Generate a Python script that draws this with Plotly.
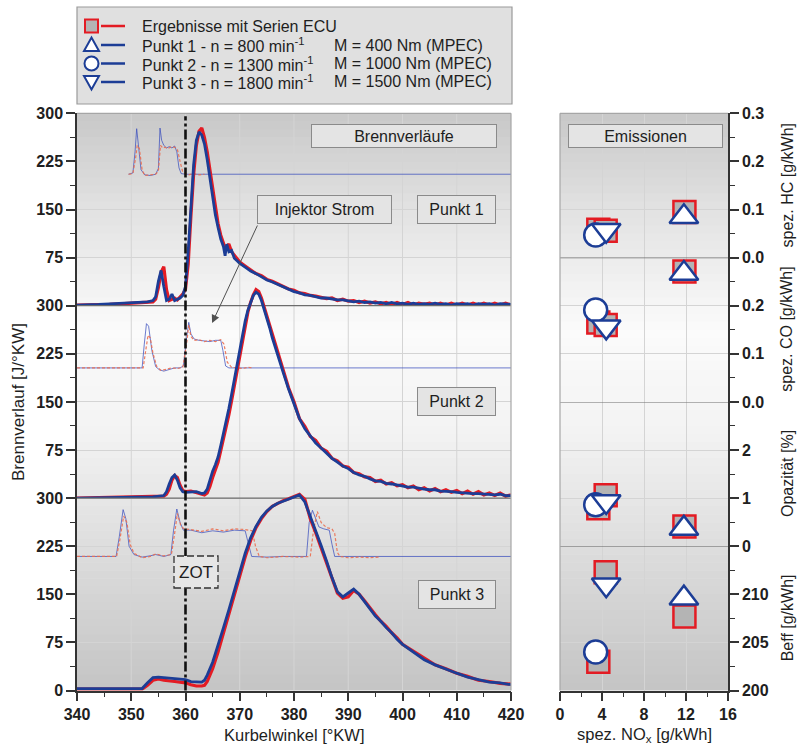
import plotly.graph_objects as go

# ---------------- data ----------------
X_TICKS = [340, 350, 360, 370, 380, 390, 400, 410, 420]
Y_TICKS_UPPER = [75, 150, 225, 300]
Y_TICKS_LOWER = [0, 75, 150, 225, 300]
NOX_TICKS = [0, 4, 8, 12, 16]
HC_TICKS = [0.0, 0.1, 0.2, 0.3]
CO_TICKS = [0.0, 0.1, 0.2]
OPA_TICKS = [0, 1, 2]
BEFF_TICKS = [200, 205, 210]

# Punkt 1 heat release
P1_X = [340, 342, 344, 346, 348, 350, 352, 353, 354, 354.5,
        355, 355.5, 356, 356.5, 357, 357.5, 358, 358.5, 359, 359.5,
        360, 360.5, 361, 361.5, 362, 362.5, 363, 363.5, 364, 364.5,
        365, 365.5, 366, 366.5, 367, 367.3, 367.6, 368, 368.5, 369,
        369.5, 370, 371, 372, 373, 374, 375, 376, 377, 378,
        379, 380, 381, 382, 383, 384, 385, 386, 387, 388,
        389, 390, 391, 392, 393, 394, 395, 396, 397, 398,
        399, 400, 401, 402, 403, 404, 405, 406, 407, 408,
        409, 410, 411, 412, 413, 414, 415, 416, 417, 418,
        419, 420]
P1_BLUE = [1, 1, 2, 3, 4, 5, 6, 6, 8, 14,
           38, 55, 30, 8, 10, 18, 8, 10, 12, 16,
           30, 85, 160, 220, 258, 271, 266, 252, 228, 198,
           168, 142, 122, 104, 92, 78, 96, 84, 86, 74,
           70, 66, 60, 54, 50, 45, 40, 37, 33, 29,
           26, 22, 20, 17, 16, 14, 12, 12, 10, 9,
           9, 8, 6, 7, 5, 6, 4, 5, 3, 5,
           3, 4, 2, 4, 2, 3, 2, 4, 2, 3,
           1, 3, 2, 3, 1, 3, 2, 3, 1, 3,
           2, 2]
P1_RED = [1, 1, 2, 2, 3, 4, 5, 6, 6, 10,
          28, 52, 61, 25, 8, 10, 12, 9, 14, 18,
          26, 65, 140, 205, 250, 272, 277, 262, 240, 212,
          180, 152, 128, 110, 98, 90, 92, 96, 84, 78,
          72, 68, 62, 56, 50, 47, 41, 38, 34, 30,
          26, 24, 20, 19, 16, 15, 13, 11, 12, 8,
          10, 7, 8, 5, 7, 4, 6, 3, 5, 2,
          5, 2, 5, 1, 4, 2, 4, 1, 4, 1,
          4, 1, 4, 1, 4, 1, 4, 1, 4, 1,
          4, 1]

# Punkt 2 heat release
P2_X = [340, 345, 350, 354, 356, 356.5, 357, 357.5, 358, 358.5,
        359, 359.5, 360, 361, 362, 363, 363.5, 364, 364.5, 365,
        365.5, 366, 366.5, 367, 367.5, 368, 368.5, 369, 369.5, 370,
        370.5, 371, 371.5, 372, 372.5, 373, 373.5, 374, 374.5, 375,
        375.5, 376, 376.5, 377, 377.5, 378, 379, 380, 381, 382,
        383, 384, 385, 386, 387, 388, 389, 390, 391, 392,
        393, 394, 395, 396, 397, 398, 399, 400, 401, 402,
        403, 404, 405, 406, 407, 408, 409, 410, 411, 412,
        413, 414, 415, 416, 417, 418, 419, 420]
P2_BLUE = [0, 1, 1, 2, 4, 10, 22, 32, 36, 28,
           16, 10, 9, 10, 10, 7, 8, 14, 28, 42,
           52, 64, 82, 100, 118, 140, 162, 186, 208, 232,
           256, 276, 293, 306, 316, 321, 318, 308, 295, 280,
           266, 250, 236, 222, 208, 196, 170, 146, 124, 108,
           96, 86, 78, 70, 62, 56, 50, 46, 40, 36,
           34, 30, 27, 26, 23, 22, 20, 19, 17, 17,
           15, 14, 13, 13, 11, 11, 10, 9, 8, 8,
           7, 7, 6, 6, 5, 6, 4, 4]
P2_RED = [0, 1, 2, 2, 3, 6, 14, 28, 35, 32,
          20, 12, 10, 11, 9, 6, 5, 8, 18, 32,
          44, 56, 74, 92, 110, 130, 152, 176, 200, 224,
          248, 270, 290, 305, 317, 325, 322, 312, 298, 283,
          268, 254, 238, 224, 212, 198, 172, 150, 124, 112,
          96, 90, 78, 73, 62, 58, 50, 48, 40, 38,
          33, 32, 26, 28, 22, 24, 19, 21, 16, 19,
          13, 16, 11, 15, 10, 13, 9, 12, 7, 11,
          6, 10, 5, 8, 4, 8, 3, 5]

# Punkt 3 heat release
P3_X = [340, 345, 350, 352, 353, 354, 355, 356, 358, 360,
        361, 362, 363, 363.5, 364, 365, 366, 367, 368, 369,
        370, 371, 372, 373, 374, 375, 376, 377, 378, 379,
        380, 381, 382, 383, 384, 385, 386, 387, 388, 389,
        390, 391, 392, 393, 394, 395, 396, 397, 398, 399,
        400, 402, 404, 406, 408, 410, 412, 414, 416, 418,
        420]
P3_BLUE = [3, 3, 3, 3, 12, 20, 21, 20, 19, 17,
           14, 13, 13, 16, 24, 44, 70, 98, 126, 156,
           186, 214, 238, 256, 270, 280, 287, 292, 295, 298,
           302, 305, 294, 272, 250, 226, 202, 176, 154, 146,
           152, 158, 150, 138, 128, 116, 108, 98, 90, 80,
           72, 60, 48, 40, 33, 27, 21, 17, 13, 12,
           9]
P3_RED = [2, 2, 2, 2, 8, 16, 18, 16, 14, 12,
          9, 7, 7, 8, 14, 34, 60, 90, 120, 150,
          180, 208, 234, 254, 268, 279, 287, 292, 296, 299,
          302, 306, 298, 268, 246, 222, 198, 174, 152, 144,
          146, 156, 150, 140, 128, 118, 108, 100, 90, 82,
          72, 61, 50, 40, 34, 27, 22, 16, 14, 11,
          10]

# injector current traces (plotted on the same scale)
INJ1_BLUE_X = [349.5, 350.3, 350.7, 351.0, 351.3, 351.8, 352.5, 353.5, 354.5, 355.0,
               355.3, 355.6, 356.0, 356.5, 357.0, 357.5, 358.0, 358.4, 358.8, 359.2,
               360.0, 420]
INJ1_BLUE_Y = [205, 207, 240, 276, 252, 212, 204, 203, 205, 214,
               277, 258, 250, 246, 248, 246, 249, 240, 215, 206,
               205, 205]
INJ1_RED_X = [349.5, 350.3, 350.8, 351.1, 351.5, 352.0, 352.5, 353.5, 354.5, 355.0,
              355.4, 355.8, 356.2, 356.8, 357.4, 358.0, 358.5, 359.0, 359.5, 360.5,
              361.5, 362.5, 363.5]
INJ1_RED_Y = [205, 206, 230, 250, 245, 212, 203, 204, 205, 210,
              250, 246, 247, 245, 248, 247, 244, 225, 208, 204,
              206, 204, 205]
INJ2_BLUE_X = [340, 352.0, 352.4, 352.8, 353.2, 353.8, 354.5, 355.2, 356.0, 357.0,
               358.0, 359.0, 359.6, 360.2, 360.6, 361.0, 361.6, 362.5, 363.5, 364.5,
               365.5, 366.5, 366.9, 367.4, 368.0, 420]
INJ2_BLUE_Y = [203, 203, 240, 272, 268, 230, 205, 200, 198, 201,
               203, 203, 206, 250, 274, 256, 248, 246, 245, 244,
               246, 246, 230, 206, 203, 203]
INJ2_RED_X = [340, 352.2, 352.7, 353.1, 353.5, 354.0, 354.7, 355.5, 356.5, 357.5,
              358.5, 359.5, 360.2, 360.6, 361.0, 361.6, 362.5, 363.5, 364.5, 365.5,
              366.5, 367.1, 367.7, 368.5, 369.5, 370.5, 371.5, 372.4]
INJ2_RED_Y = [203, 203, 232, 254, 250, 226, 205, 199, 201, 203,
              202, 204, 240, 270, 252, 246, 247, 244, 246, 244,
              247, 240, 212, 204, 203, 202, 204, 203]
INJ3_BLUE_X = [340, 347.2, 347.8, 348.5, 349.0, 349.6, 350.5, 352.0, 353.5, 354.5,
               356.0, 357.3, 357.8, 358.4, 359.0, 359.6, 361.0, 363.0, 365.0, 367.0,
               369.0, 371.0, 371.5, 372.2, 375.0, 378.0, 382.3, 382.8, 383.4, 384.0,
               384.6, 385.5, 386.5, 387.0, 387.5, 420]
INJ3_BLUE_Y = [209, 209, 240, 282, 268, 225, 212, 208, 210, 212,
               209, 212, 250, 283, 262, 250, 250, 246, 249, 247,
               250, 249, 232, 209, 208, 209, 209, 262, 281, 268,
               255, 252, 250, 228, 209, 209]
INJ3_RED_X = [340, 347.3, 347.9, 348.6, 349.2, 349.8, 350.5, 352.0, 353.5, 354.5,
              356.0, 357.4, 358.0, 358.5, 359.1, 359.7, 361.0, 363.0, 365.0, 367.0,
              369.0, 371.0, 372.3, 372.9, 373.6, 375.0, 378.0, 381.0, 383.0, 383.6,
              384.3, 385.0, 386.0, 387.0, 387.5, 388.0, 388.5, 390.0, 392.0, 394.0,
              395.7]
INJ3_RED_Y = [209, 209, 235, 272, 262, 228, 214, 207, 209, 213,
              210, 212, 245, 276, 258, 252, 251, 248, 252, 249,
              252, 251, 249, 225, 209, 207, 209, 208, 209, 250,
              279, 262, 254, 252, 245, 215, 209, 207, 208, 207,
              208]

# emissions: order Punkt 1, Punkt 2, Punkt 3
PUNKT_SYMBOLS = ["triangle-up", "circle", "triangle-down"]
NOX_PUNKT = [11.8, 3.4, 4.4]
NOX_ECU = [11.85, 3.65, 4.35]
HC_PUNKT = [0.085, 0.047, 0.057]
HC_ECU = [0.095, 0.058, 0.056]
CO_PUNKT = [0.267, 0.191, 0.156]
CO_ECU = [0.271, 0.165, 0.160]
OPA_PUNKT = [0.37, 0.86, 0.93]
OPA_ECU = [0.41, 0.79, 1.06]
BEFF_PUNKT = [209.6, 204.0, 211.0]
BEFF_ECU = [207.7, 203.0, 212.3]

# ---------------- layout geometry / style ----------------
W, H = 799, 746
FONT = "Liberation Sans, Arial, sans-serif"
INK = "#1e1e1e"
BLUE = "#1c3d96"
RED = "#e31b23"
GRID = "#d4d4d4"


def fx(p):
    return p / W


def fy(p):
    return 1 - p / H


LX0, LX1 = 77.0, 511.0
RX0, RX1 = 560.0, 728.0
TOP, BOT = 113.3, 690.5
PH = (BOT - TOP) / 3.0
UPX = PH / 300.0
B1 = TOP + PH
B2 = TOP + 2 * PH
P2_MAX, P3_MAX = 335, 312
RH = (BOT - TOP) / 4.0

fig = go.Figure()


def add_line(x, y, ya, color, width, dash="solid"):
    fig.add_trace(go.Scatter(x=x, y=y, xaxis="x", yaxis=ya, mode="lines",
                             line=dict(color=color, width=width, dash=dash),
                             hoverinfo="skip", showlegend=False))


INJ_BLUE = "rgba(60,80,190,0.75)"
INJ_RED = "rgba(235,110,80,0.9)"
for ya, bx, by, rx, ry in [("y", INJ1_BLUE_X, INJ1_BLUE_Y, INJ1_RED_X, INJ1_RED_Y),
                           ("y2", INJ2_BLUE_X, INJ2_BLUE_Y, INJ2_RED_X, INJ2_RED_Y),
                           ("y3", INJ3_BLUE_X, INJ3_BLUE_Y, INJ3_RED_X, INJ3_RED_Y)]:
    add_line(bx, by, ya, INJ_BLUE, 1)
    add_line(rx, ry, ya, INJ_RED, 1.2, "3px,2px")

for ya, xs, red, blue in [("y", P1_X, P1_RED, P1_BLUE),
                          ("y2", P2_X, P2_RED, P2_BLUE),
                          ("y3", P3_X, P3_RED, P3_BLUE)]:
    add_line(xs, red, ya, RED, 3.2)
    add_line(xs, blue, ya, BLUE, 2.8)

for ya, ecu, pk in [("y4", HC_ECU, HC_PUNKT), ("y5", CO_ECU, CO_PUNKT),
                    ("y6", OPA_ECU, OPA_PUNKT), ("y7", BEFF_ECU, BEFF_PUNKT)]:
    fig.add_trace(go.Scatter(x=NOX_ECU, y=ecu, xaxis="x2", yaxis=ya, mode="markers",
                             marker=dict(symbol="square", size=22, color="#b4b4b4", opacity=1,
                                         line=dict(color=RED, width=2.5)),
                             cliponaxis=False, hoverinfo="skip", showlegend=False))
    fig.add_trace(go.Scatter(x=NOX_PUNKT, y=pk, xaxis="x2", yaxis=ya, mode="markers",
                             marker=dict(symbol=PUNKT_SYMBOLS, size=[25, 23, 25], color="white", opacity=1,
                                         line=dict(color=BLUE, width=2.5)),
                             cliponaxis=False, hoverinfo="skip", showlegend=False))

shapes = []
# background gradient
stops = [(TOP, 200), (210, 226), (330, 251), (430, 243), (560, 219), (BOT, 196)]


def shade(y):
    for (a, ga), (b, gb) in zip(stops[:-1], stops[1:]):
        if a <= y <= b:
            return ga + (gb - ga) * (y - a) / (b - a)
    return stops[-1][1]


N = 72
for i in range(N):
    y0 = TOP + (BOT - TOP) * i / N
    y1 = TOP + (BOT - TOP) * (i + 1) / N
    g = int(round(shade((y0 + y1) / 2)))
    for a, b in [(LX0, LX1), (RX0, RX1)]:
        shapes.append(dict(type="rect", xref="paper", yref="paper", x0=fx(a), x1=fx(b),
                           y0=fy(min(y1 + 0.6, BOT)), y1=fy(y0), fillcolor=f"rgb({g},{g},{g})",
                           line=dict(width=0), layer="below"))

# vertical grid lines of the left plot
for v in X_TICKS[1:-1]:
    shapes.append(dict(type="line", xref="x", yref="paper", x0=v, x1=v, y0=fy(BOT), y1=fy(TOP),
                       line=dict(color=GRID, width=1), layer="below"))

# frames
FRAME = "#a6a6a6"
shapes += [
    dict(type="line", xref="paper", yref="paper", x0=fx(LX0), x1=fx(LX1), y0=fy(TOP), y1=fy(TOP),
         line=dict(color=FRAME, width=1.2), layer="above"),
    dict(type="line", xref="paper", yref="paper", x0=fx(LX1), x1=fx(LX1), y0=fy(BOT), y1=fy(TOP),
         line=dict(color=FRAME, width=1.2), layer="above"),
    dict(type="line", xref="paper", yref="paper", x0=fx(RX0), x1=fx(RX1), y0=fy(TOP), y1=fy(TOP),
         line=dict(color=FRAME, width=1.2), layer="above"),
    dict(type="line", xref="paper", yref="paper", x0=fx(RX0), x1=fx(RX0), y0=fy(BOT), y1=fy(TOP),
         line=dict(color=FRAME, width=1.2), layer="above"),
]
# panel boundaries
SEP = "#6c6c6c"
shapes += [
    dict(type="line", xref="x", yref="y2", x0=340, x1=420, y0=300, y1=300,
         line=dict(color=SEP, width=1.3), layer="between"),
    dict(type="line", xref="x", yref="y3", x0=340, x1=420, y0=300, y1=300,
         line=dict(color=SEP, width=1.3), layer="between"),
    dict(type="line", xref="x2", yref="y5", x0=0, x1=16, y0=0.3, y1=0.3,
         line=dict(color=SEP, width=1.3), layer="between"),
    dict(type="line", xref="x2", yref="y6", x0=0, x1=16, y0=3, y1=3,
         line=dict(color=SEP, width=1.3), layer="between"),
    dict(type="line", xref="x2", yref="y7", x0=0, x1=16, y0=215, y1=215,
         line=dict(color=SEP, width=1.3), layer="between"),
]
# ZOT dashed line and box
shapes.append(dict(type="line", xref="x", yref="paper", x0=360, x1=360, y0=fy(BOT), y1=fy(TOP + 3),
                   line=dict(color="#111", width=2.6, dash="10px,3px,3px,3px"), layer="above"))
shapes.append(dict(type="rect", xref="paper", yref="paper", x0=fx(174), x1=fx(218), y0=fy(588), y1=fy(556),
                   fillcolor="#e6e6e6", line=dict(color="#333", width=1.3, dash="7px,3px"), layer="above"))

# legend box + glyphs
shapes.append(dict(type="rect", xref="paper", yref="paper", x0=fx(77), x1=fx(512), y0=fy(104), y1=fy(7),
                   fillcolor="#e0e0e0", line=dict(color="#9a9a9a", width=1.2), layer="above"))
ROWS = [26, 45, 63.5, 82]
CX = 91.5
for i, cy in enumerate(ROWS):
    col = RED if i == 0 else BLUE
    shapes.append(dict(type="line", xref="paper", yref="paper", x0=fx(101), x1=fx(125), y0=fy(cy), y1=fy(cy),
                       line=dict(color=col, width=2.5), layer="above"))
cy = ROWS[0]
shapes.append(dict(type="rect", xref="paper", yref="paper", x0=fx(CX - 6.5), x1=fx(CX + 6.5),
                   y0=fy(cy + 6.5), y1=fy(cy - 6.5), fillcolor="#b4b4b4",
                   line=dict(color=RED, width=2), layer="above"))


def tri(cx, cy, up):
    if up:
        pts = [(cx - 7.5, cy + 6), (cx + 7.5, cy + 6), (cx, cy - 7.5)]
    else:
        pts = [(cx - 7.5, cy - 6), (cx + 7.5, cy - 6), (cx, cy + 7.5)]
    return "M {:.5f},{:.5f} L {:.5f},{:.5f} L {:.5f},{:.5f} Z".format(
        fx(pts[0][0]), fy(pts[0][1]), fx(pts[1][0]), fy(pts[1][1]), fx(pts[2][0]), fy(pts[2][1]))


shapes.append(dict(type="path", xref="paper", yref="paper", path=tri(CX, ROWS[1], True),
                   fillcolor="white", line=dict(color=BLUE, width=2), layer="above"))
shapes.append(dict(type="circle", xref="paper", yref="paper", x0=fx(CX - 7), x1=fx(CX + 7),
                   y0=fy(ROWS[2] + 7), y1=fy(ROWS[2] - 7), fillcolor="white",
                   line=dict(color=BLUE, width=2), layer="above"))
shapes.append(dict(type="path", xref="paper", yref="paper", path=tri(CX, ROWS[3], False),
                   fillcolor="white", line=dict(color=BLUE, width=2), layer="above"))

annotations = []


def text(t, x, y, size=16, anchor="center", angle=0):
    annotations.append(dict(text=t, xref="paper", yref="paper", x=fx(x), y=fy(y),
                            xanchor=anchor, yanchor="middle", showarrow=False, textangle=angle,
                            font=dict(family=FONT, size=size, color=INK)))


def box(t, x0, x1, y0, y1):
    annotations.append(dict(text=t, xref="paper", yref="paper", x=fx((x0 + x1) / 2), y=fy((y0 + y1) / 2),
                            xanchor="center", yanchor="middle", showarrow=False,
                            width=x1 - x0 - 2, height=y1 - y0 - 2, borderpad=0,
                            bgcolor="#e4e4e4", bordercolor="#8a8a8a", borderwidth=1,
                            font=dict(family=FONT, size=16, color=INK)))


LEG_A = ["Ergebnisse mit Serien ECU",
         "Punkt 1 - n = 800 min<sup>-1</sup>",
         "Punkt 2 - n = 1300 min<sup>-1</sup>",
         "Punkt 3 - n = 1800 min<sup>-1</sup>"]
LEG_B = ["", "M = 400 Nm (MPEC)", "M = 1000 Nm (MPEC)", "M = 1500 Nm (MPEC)"]
for cy, a, b in zip(ROWS, LEG_A, LEG_B):
    text(a, 140, cy, 16, "left")
    if b:
        text(b, 332, cy, 16, "left")

box("Brennverläufe", 311, 497, 124, 148)
box("Punkt 1", 417, 496, 195, 224)
box("Injektor Strom", 257, 392, 195, 224)
box("Punkt 2", 417, 496, 387, 416)
box("Punkt 3", 418, 496, 580, 609)
box("Emissionen", 568, 723, 124, 148)
text("ZOT", 196, 572, 17)

# arrow from "Injektor Strom" to the injector trace of Punkt 2
annotations.append(dict(text="", xref="x", yref="y2", x=364.9, y=273, ax=46, ay=-99,
                        showarrow=True, arrowhead=2, arrowsize=1.6, arrowwidth=1, arrowcolor="#505050"))

# axis titles
text("Kurbelwinkel [°KW]", (LX0 + LX1) / 2, 735, 16.5)
text("spez. NO<sub>x</sub> [g/kWh]", (RX0 + RX1) / 2, 735, 16.5)
text("Brennverlauf [J/°KW]", 18, 402, 17, angle=-90)
for k, t in enumerate(["spez. HC [g/kWh]", "spez. CO [g/kWh]", "Opazität [%]", "Beff [g/kWh]"]):
    text(t, 787, TOP + RH * (k + 0.5), 16, angle=-90)

common = dict(showline=True, linecolor="#333", linewidth=1.5, ticks="outside", tickcolor="#333",
              tickwidth=1.5, ticklen=9, tickfont=dict(family=FONT, size=16, color="#202020", weight="bold"),
              zeroline=False, automargin=False, fixedrange=True)


def minor(d, t0=0):
    return dict(tickmode="linear", tick0=t0, dtick=d, ticks="outside", ticklen=5,
                tickcolor="#333", tickwidth=1.2, showgrid=False)


layout = dict(
    width=W, height=H, margin=dict(l=0, r=0, t=0, b=0),
    paper_bgcolor="white", plot_bgcolor="rgba(0,0,0,0)", showlegend=False,
    font=dict(family=FONT, color=INK),
    shapes=shapes, annotations=annotations,
    xaxis=dict(common, domain=[fx(LX0), fx(LX1)], range=[340, 420], anchor="y3",
               tickmode="array", tickvals=X_TICKS, showgrid=False, minor=minor(5)),
    yaxis=dict(common, domain=[fy(B1), fy(TOP)], range=[0, 300], anchor="x",
               tickmode="array", tickvals=Y_TICKS_UPPER, showgrid=True, gridcolor=GRID,
               minor=minor(37.5)),
    yaxis2=dict(common, domain=[fy(B2), fy(B1 - (P2_MAX - 300) * UPX)], range=[0, P2_MAX], anchor="x",
                tickmode="array", tickvals=Y_TICKS_UPPER, showgrid=True, gridcolor=GRID,
                minor=minor(37.5)),
    yaxis3=dict(common, domain=[fy(BOT), fy(B2 - (P3_MAX - 300) * UPX)], range=[0, P3_MAX], anchor="x",
                tickmode="array", tickvals=Y_TICKS_LOWER, showgrid=True, gridcolor=GRID,
                minor=minor(37.5)),
    xaxis2=dict(common, domain=[fx(RX0), fx(RX1)], range=[0, 16], anchor="y7",
                tickmode="array", tickvals=NOX_TICKS, showgrid=True, gridcolor=GRID, minor=minor(2)),
    yaxis4=dict(common, domain=[fy(TOP + RH), fy(TOP)], range=[0, 0.3], anchor="x2", side="right",
                tickmode="array", tickvals=HC_TICKS, tickformat=".1f", showgrid=True, gridcolor=GRID,
                minor=minor(0.05)),
    yaxis5=dict(common, domain=[fy(TOP + 2 * RH), fy(TOP + RH)], range=[0, 0.3], anchor="x2", side="right",
                tickmode="array", tickvals=CO_TICKS, tickformat=".1f", showgrid=True, gridcolor=GRID,
                minor=minor(0.05)),
    yaxis6=dict(common, domain=[fy(TOP + 3 * RH), fy(TOP + 2 * RH)], range=[0, 3], anchor="x2", side="right",
                tickmode="array", tickvals=OPA_TICKS, showgrid=True, gridcolor=GRID, minor=minor(0.5)),
    yaxis7=dict(common, domain=[fy(BOT), fy(TOP + 3 * RH)], range=[200, 215], anchor="x2", side="right",
                tickmode="array", tickvals=BEFF_TICKS, showgrid=True, gridcolor=GRID, minor=minor(2.5, 200)),
)
fig.update_layout(**layout)
fig.write_html("out.html")
